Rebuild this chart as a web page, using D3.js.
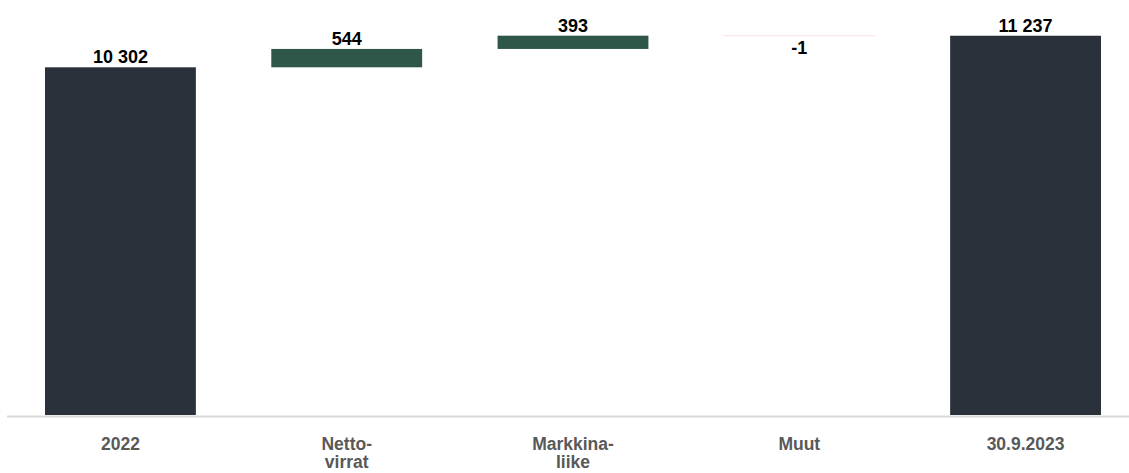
<!DOCTYPE html>
<html>
<head>
<meta charset="utf-8">
<script src="https://cdn.jsdelivr.net/npm/d3@7"></script>
<style>
  html, body { margin: 0; padding: 0; background: #ffffff; }
  svg { display: block; }
</style>
</head>
<body>
<svg id="chart" width="1129" height="473"></svg>
<script>
// Waterfall: opening balance, changes, closing balance
const categories = ["2022", "Netto-\nvirrat", "Markkina-\nliike", "Muut", "30.9.2023"];
const values = [10302, 544, 393, -1, 11237];
const kinds = ["total", "delta", "delta", "delta", "total"];
const valueLabels = ["10 302", "544", "393", "-1", "11 237"];

const colors = { total: "#2a313b", up: "#2f5749", down: "#f4e4e0" };

const W = 1129, H = 473;
const baseY = 415;

const svg = d3.select("#chart");

const x = d3.scaleBand()
  .domain(categories)
  .range([7.3, 1138.7])
  .paddingInner(1 / 3)
  .paddingOuter(1 / 6);

const y = d3.scaleLinear()
  .domain([0, 10302])
  .range([baseY, 67.3]);

// running start/end for each step
let running = 0;
const steps = categories.map((c, i) => {
  let start, end;
  if (kinds[i] === "total") {
    start = 0; end = values[i]; running = values[i];
  } else {
    start = running; end = running + values[i]; running = end;
  }
  return { cat: c, value: values[i], kind: kinds[i], start, end, label: valueLabels[i] };
});

// bars
svg.append("g").selectAll("rect")
  .data(steps)
  .join("rect")
  .attr("x", d => x(d.cat))
  .attr("width", x.bandwidth())
  .attr("y", d => y(Math.max(d.start, d.end)))
  .attr("height", d => Math.abs(y(d.start) - y(d.end)))
  .attr("fill", d => d.kind === "total" ? colors.total : (d.value >= 0 ? colors.up : colors.down))
  .attr("stroke", d => d.kind !== "total" && d.value < 0 ? colors.down : "none")
  .attr("stroke-width", 1);

// value labels
svg.append("g").selectAll("text")
  .data(steps)
  .join("text")
  .attr("x", d => x(d.cat) + x.bandwidth() / 2)
  .attr("y", d => d.value >= 0 ? y(Math.max(d.start, d.end)) - 4 : y(Math.min(d.start, d.end)) + 18)
  .attr("text-anchor", "middle")
  .attr("font-family", "'Liberation Sans', Arial, sans-serif")
  .attr("font-weight", "bold")
  .attr("font-size", 18)
  .attr("fill", "#000000")
  .text(d => d.label);

// baseline axis
const axis = d3.axisBottom(x).tickSize(0).tickFormat("");
const gAxis = svg.append("g")
  .attr("transform", `translate(0,${baseY + 1.5})`)
  .call(axis);
gAxis.select(".domain")
  .attr("d", `M7,0H${W}`)
  .attr("stroke", "#d9d9d9")
  .attr("stroke-width", 2);

// category labels, split over lines
const catLabels = svg.append("g").selectAll("text")
  .data(categories)
  .join("text")
  .attr("x", d => x(d) + x.bandwidth() / 2)
  .attr("y", 450)
  .attr("text-anchor", "middle")
  .attr("font-family", "'Liberation Sans', Arial, sans-serif")
  .attr("font-weight", "bold")
  .attr("font-size", 17.5)
  .attr("fill", "#595959");

catLabels.each(function (d) {
  const lines = d.split("\n");
  d3.select(this).selectAll("tspan")
    .data(lines)
    .join("tspan")
    .attr("x", x(d) + x.bandwidth() / 2)
    .attr("dy", (l, i) => i === 0 ? 0 : 18)
    .text(l => l);
});
</script>
</body>
</html>
